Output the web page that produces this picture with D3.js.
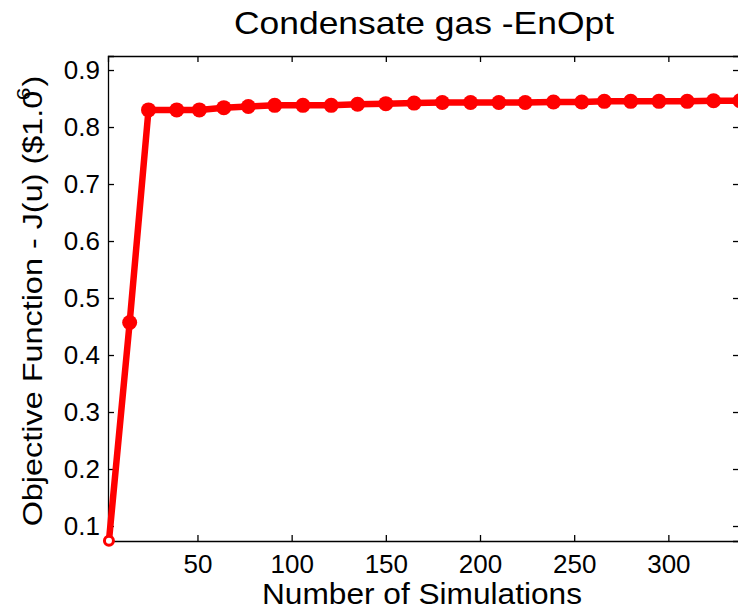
<!DOCTYPE html>
<html>
<head>
<meta charset="utf-8">
<script src="https://cdn.jsdelivr.net/npm/d3@7"></script>
<style>
  html, body { margin: 0; padding: 0; background: #fff; }
  svg { display: block; }
  text { font-family: "Liberation Sans", Arial, Helvetica, sans-serif; fill: #000; }
</style>
</head>
<body>
<svg id="chart" width="738" height="614"></svg>
<script>
const simulations = [3, 14, 24, 39, 51, 64, 77, 91, 106, 121, 135, 150, 165, 180, 195, 210, 224, 239, 254, 266, 280, 295, 310, 324, 338];
const objective = [0.074, 0.457, 0.830, 0.830, 0.830, 0.834, 0.836, 0.838, 0.838, 0.838, 0.840, 0.841, 0.842, 0.843, 0.843, 0.843, 0.843, 0.844, 0.844, 0.845, 0.845, 0.845, 0.845, 0.846, 0.846];
const xTicks = [50, 100, 150, 200, 250, 300];
const yTicks = [0.1, 0.2, 0.3, 0.4, 0.5, 0.6, 0.7, 0.8, 0.9];
const xDomain = [2.5, 337.5];
const yDomain = [0.0737, 0.9246];
const titleText = "Condensate gas -EnOpt";
const xLabelText = "Number of Simulations";
const yLabelMain = "Objective Function - J(u) ($1.0";
const yLabelSup = "6";
const yLabelEnd = ")";

(function () {
const svg = d3.select("#chart");
const m = { left: 108, right: 739, top: 56, bottom: 541 };
const x = d3.scaleLinear().domain(xDomain).range([m.left, m.right]);
const y = d3.scaleLinear().domain(yDomain).range([m.bottom, m.top]);
const tickLen = 6;

svg.append("rect").attr("width", 738).attr("height", 614).attr("fill", "#fff");

const gBottom = svg.append("g").attr("transform", `translate(0,${m.bottom})`)
  .call(d3.axisBottom(x).tickValues(xTicks).tickSize(-tickLen).tickPadding(14).tickFormat(d3.format("d")));
const gTop = svg.append("g").attr("transform", `translate(0,${m.top})`)
  .call(d3.axisTop(x).tickValues(xTicks).tickSize(-tickLen).tickFormat(""));
const gLeft = svg.append("g").attr("transform", `translate(${m.left},0)`)
  .call(d3.axisLeft(y).tickValues(yTicks).tickSize(-tickLen).tickPadding(8).tickFormat(d3.format(".1f")));
const gRight = svg.append("g").attr("transform", `translate(${m.right},0)`)
  .call(d3.axisRight(y).tickValues(yTicks).tickSize(-tickLen).tickFormat(""));
[gBottom, gTop, gLeft, gRight].forEach(g => {
  g.select(".domain").attr("stroke", "#000").attr("stroke-width", 1.3);
  g.selectAll(".tick line").attr("stroke", "#000").attr("stroke-width", 1.3);
  g.selectAll(".tick text").attr("font-size", 26).attr("font-family", "Liberation Sans, Arial, sans-serif").attr("fill", "#000");
});

const pts = simulations.map((s, i) => ({ s, v: objective[i] }));
const line = d3.line().x(d => x(d.s)).y(d => y(d.v));
svg.append("path").datum(pts).attr("d", line)
  .attr("fill", "none").attr("stroke", "#ff0000").attr("stroke-width", 6.5).attr("stroke-linejoin", "round");
svg.append("g").selectAll("circle").data(pts.slice(1)).join("circle")
  .attr("cx", d => x(d.s)).attr("cy", d => y(d.v)).attr("r", 7.5).attr("fill", "#ff0000");
svg.append("circle").datum(pts[0])
  .attr("cx", d => x(d.s)).attr("cy", d => y(d.v)).attr("r", 4.5)
  .attr("fill", "#fff").attr("stroke", "#ff0000").attr("stroke-width", 3);

svg.append("text").attr("x", 424).attr("y", 34).attr("text-anchor", "middle")
  .attr("font-size", 32).attr("textLength", 380).attr("lengthAdjust", "spacingAndGlyphs").text(titleText);
svg.append("text").attr("x", 422).attr("y", 604).attr("text-anchor", "middle")
  .attr("font-size", 29).attr("textLength", 320).attr("lengthAdjust", "spacingAndGlyphs").text(xLabelText);
const yl = svg.append("text").attr("transform", "translate(42,301) rotate(-90) scale(1.2,1)")
  .attr("text-anchor", "middle").attr("font-size", 27);
yl.append("tspan").text(yLabelMain);
yl.append("tspan").attr("font-size", 19).attr("dx", -8).attr("dy", -12).text(yLabelSup);
yl.append("tspan").attr("dy", 12).attr("dx", 1).text(yLabelEnd);
})();
</script>
</body>
</html>
